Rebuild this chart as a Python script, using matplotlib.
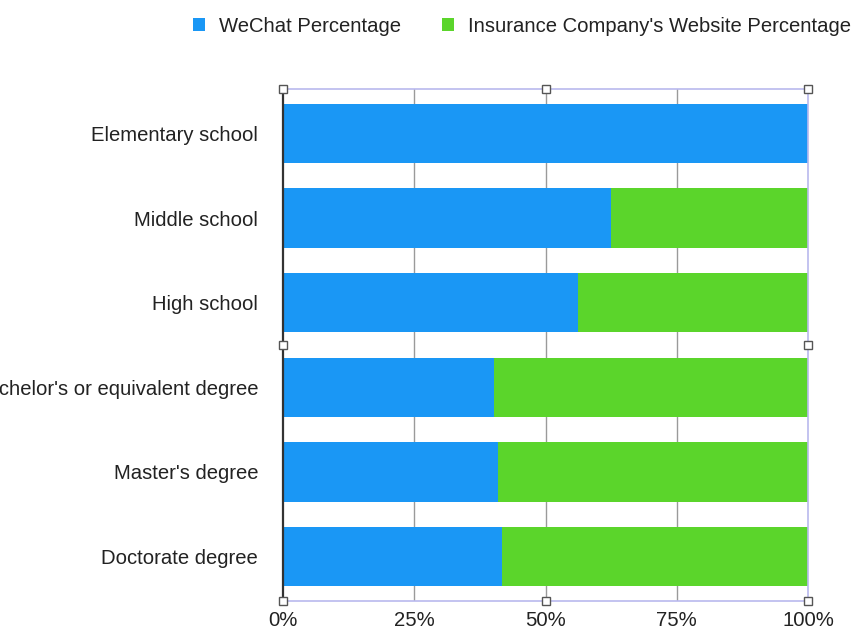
import matplotlib
matplotlib.use("Agg")
import matplotlib.pyplot as plt
from matplotlib.patches import Patch

categories = ["Elementary school", "Middle school", "High school",
              "Bachelor's or equivalent degree", "Master's degree", "Doctorate degree"]
wechat = [100, 62.5, 56.2, 40.2, 41.0, 41.7]
website = [0, 37.5, 43.8, 59.8, 59.0, 58.3]
xticks = [0, 25, 50, 75, 100]
xticklabels = ["0%", "25%", "50%", "75%", "100%"]

blue = "#1A97F5"
green = "#5BD52B"

plt.rcParams['font.family'] = ['Liberation Sans', 'DejaVu Sans']

fig = plt.figure(figsize=(8.59, 6.3), dpi=100)
ax = fig.add_axes([283/859, 1-601/630, 525/859, 512/630])

y = list(range(len(categories)))
ax.barh(y, wechat, height=0.7, color=blue, zorder=2)
ax.barh(y, website, left=wechat, height=0.7, color=green, zorder=2)

ax.set_xlim(0, 100)
ax.set_ylim(5.526, -0.526)
ax.set_yticks(y)
ax.set_yticklabels(categories, fontsize=14.6, color="#222222")
ax.set_xticks(xticks)
ax.set_xticklabels(xticklabels, fontsize=14.6, color="#222222")
ax.tick_params(axis='both', length=0)
ax.tick_params(axis='y', pad=18)
ax.tick_params(axis='x', pad=7)

for v in [25, 50, 75]:
    ax.axvline(v, color="#9a9a9a", lw=1.0, zorder=1)

ax.spines['left'].set_color("#333333")
ax.spines['left'].set_linewidth(1.6)
for s in ['top', 'bottom', 'right']:
    ax.spines[s].set_color("#b9b9ee")
    ax.spines[s].set_linewidth(1.2)

# selection handles
hx = [0, 0.5, 1, 0, 1, 0, 0.5, 1]
hy = [1, 1, 1, 0.5, 0.5, 0, 0, 0]
ax.plot(hx, hy, linestyle='none', marker='s', markersize=6, markerfacecolor='white',
        markeredgecolor='#555555', markeredgewidth=1.0, transform=ax.transAxes,
        clip_on=False, zorder=5)

handles = [Patch(facecolor=blue, edgecolor='none', label="WeChat Percentage"),
           Patch(facecolor=green, edgecolor='none', label="Insurance Company's Website Percentage")]
fig.legend(handles=handles, loc='center', bbox_to_anchor=(522/859, 1-26/630), ncol=2,
           frameon=False, fontsize=14.6, handlelength=0.6, handleheight=0.6,
           handletextpad=0.7, columnspacing=2.0, labelcolor="#222222")

fig.savefig("out.png", dpi=100, facecolor='white')
